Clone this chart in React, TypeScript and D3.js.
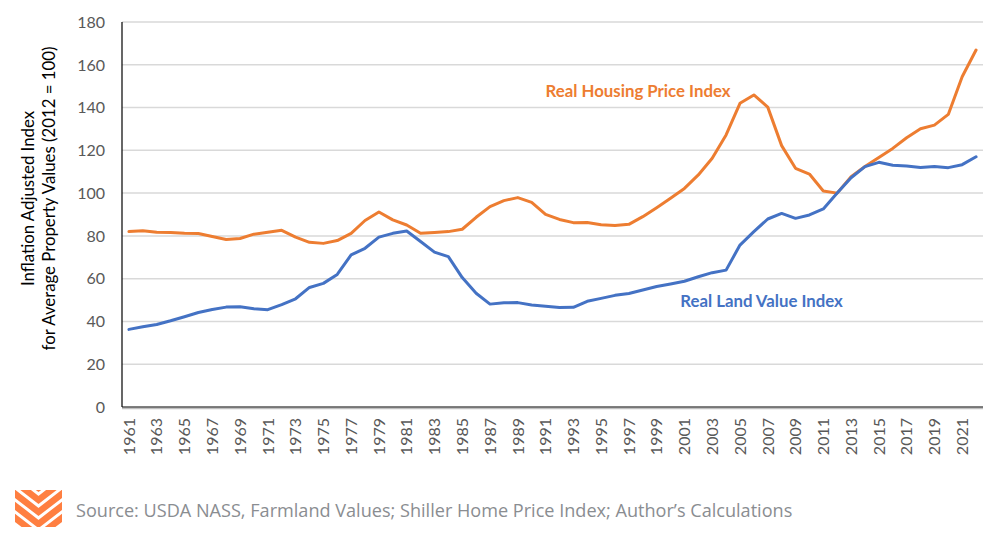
import * as d3 from "d3";
import React from "react";

const years: number[] = d3.range(1961, 2023);

const housingIndex: number[] = [
	82.0, 82.4, 81.7, 81.6, 81.2, 81.1, 79.7, 78.3, 78.8, 80.8,
	81.7, 82.6, 79.4, 77.0, 76.5, 77.8, 81.2, 87.2, 91.2, 87.5,
	85.1, 81.2, 81.6, 82.0, 83.1, 88.7, 93.7, 96.5, 97.9, 95.7,
	90.1, 87.7, 86.2, 86.3, 85.2, 84.9, 85.4, 89.0, 93.2, 97.6,
	102.2, 108.5, 116.3, 127.2, 142.0, 145.9, 140.2, 122.2, 111.6, 108.9,
	101.0, 100.0, 107.7, 112.4, 116.7, 120.9, 125.9, 130.1, 131.8, 136.8,
	154.4, 166.9,
];

const landIndex: number[] = [
	36.3, 37.5, 38.6, 40.3, 42.2, 44.2, 45.6, 46.7, 46.9, 45.9,
	45.5, 47.9, 50.6, 55.9, 57.8, 62.0, 71.1, 74.2, 79.4, 81.2,
	82.3, 77.4, 72.4, 70.3, 60.5, 53.2, 48.1, 48.7, 48.8, 47.7,
	47.1, 46.5, 46.6, 49.4, 50.8, 52.2, 53.1, 54.7, 56.3, 57.5,
	58.8, 60.9, 62.8, 64.0, 75.7, 82.0, 87.9, 90.5, 88.2, 89.8,
	92.6, 100.0, 107.2, 112.4, 114.4, 113.0, 112.7, 112.0, 112.4, 111.9,
	113.3, 117.0,
];

const yTicks: number[] = d3.range(0, 181, 20);
const xTickYears: number[] = years.filter((y) => (y - 1961) % 2 === 0);

const seriesLabels = [
	{ name: "Real Housing Price Index", color: "#ED7D31", year: 1991.0, value: 145.0 },
	{ name: "Real Land Value Index", color: "#4472C4", year: 2000.7, value: 46.9 },
];

const sourceText =
	"Source: USDA NASS, Farmland Values; Shiller Home Price Index; Author\u2019s Calculations";

const W = 989,
	H = 539;
const margin = { top: 22, right: 6, bottom: 132, left: 122 };

const Logo = () => {
	const x0 = 15,
		x1 = 62,
		y0 = 490,
		y1 = 527;
	const cx = (x0 + x1) / 2;
	const offsets = [-16, -4, 8, 20, 32];
	return (
		<g>
			<defs>
				<clipPath id="logo-clip">
					<rect x={x0} y={y0} width={x1 - x0} height={y1 - y0} />
				</clipPath>
			</defs>
			<g clipPath="url(#logo-clip)">
				{offsets.map((o, i) => (
					<polyline
						key={i}
						points={`${x0 - 10},${y0 + o - 12} ${cx},${y0 + o + 14} ${x1 + 10},${y0 + o - 12}`}
						fill="none"
						stroke="#FF7F41"
						strokeWidth={6.5}
					/>
				))}
			</g>
		</g>
	);
};

const App = () => {
	const x = d3
		.scaleBand<number>()
		.domain(years)
		.range([margin.left, W - margin.right])
		.paddingInner(0)
		.paddingOuter(0);
	const cx = (yr: number) => (x(yr) ?? 0) + x.bandwidth() / 2;
	const xf = d3
		.scaleLinear()
		.domain([1961, 2022])
		.range([cx(1961), cx(2022)]);
	const y = d3
		.scaleLinear()
		.domain([0, 180])
		.range([H - margin.bottom, margin.top]);

	const line = d3
		.line<number>()
		.x((_, i) => cx(years[i]))
		.y((d) => y(d));

	const font = "Lato, 'Open Sans', sans-serif";

	return (
		<div style={{ position: "absolute", left: 0, top: 0 }}>
			<svg width={W} height={H} style={{ display: "block", background: "#fff" }}>
				{/* gridlines */}
				{yTicks
					.filter((t) => t > 0)
					.map((t) => (
						<line
							key={t}
							x1={margin.left}
							x2={W - margin.right}
							y1={y(t)}
							y2={y(t)}
							stroke="#D9D9D9"
							strokeWidth={1.5}
						/>
					))}

				{/* axes */}
				<line
					x1={margin.left}
					x2={margin.left}
					y1={y(180)}
					y2={y(0)}
					stroke="#000"
					strokeWidth={1.2}
				/>
				<line
					x1={margin.left}
					x2={W - margin.right}
					y1={y(0) + 1.5}
					y2={y(0) + 1.5}
					stroke="#BFBFBF"
					strokeWidth={1.5}
				/>
				<line
					x1={margin.left}
					x2={W - margin.right}
					y1={y(0)}
					y2={y(0)}
					stroke="#000"
					strokeWidth={1.2}
				/>

				{/* y tick labels */}
				{yTicks.map((t) => (
					<text
						key={t}
						x={margin.left - 17}
						y={y(t)}
						dy="0.36em"
						textAnchor="end"
						fontFamily={font}
						fontSize={16}
						fill="#595959"
					>
						{t}
					</text>
				))}

				{/* x tick labels */}
				{xTickYears.map((yr) => (
					<text
						key={yr}
						transform={`translate(${cx(yr)},${y(0) + 11}) rotate(-90)`}
						dy="0.36em"
						textAnchor="end"
						fontFamily={font}
						fontSize={16}
						fill="#595959"
					>
						{yr}
					</text>
				))}

				{/* y axis title */}
				<text
					transform={`translate(44,${(y(0) + y(180)) / 2 - 16}) rotate(-90)`}
					textAnchor="middle"
					fontFamily={font}
					fontSize={16.8}
					fill="#000"
				>
					<tspan x={0} dy={-10}>
						Inflation Adjusted Index
					</tspan>
					<tspan x={0} dy={21}>
						for Average Property Values (2012 = 100)
					</tspan>
				</text>

				{/* lines */}
				<path
					d={line(housingIndex) ?? ""}
					fill="none"
					stroke="#ED7D31"
					strokeWidth={3}
					strokeLinejoin="round"
					strokeLinecap="round"
				/>
				<path
					d={line(landIndex) ?? ""}
					fill="none"
					stroke="#4472C4"
					strokeWidth={3}
					strokeLinejoin="round"
					strokeLinecap="round"
				/>

				{/* series labels */}
				{seriesLabels.map((s) => (
					<text
						key={s.name}
						x={xf(s.year)}
						y={y(s.value)}
						fontFamily={font}
						fontWeight="bold"
						fontSize={16.8}
						fill={s.color}
					>
						{s.name}
					</text>
				))}

				{/* footer */}
				<Logo />
				<text
					x={76}
					y={517}
					fontFamily="'Open Sans', sans-serif"
					fontSize={18.1}
					fill="#8A8D91"
				>
					{sourceText}
				</text>
			</svg>
		</div>
	);
};

export default App;
